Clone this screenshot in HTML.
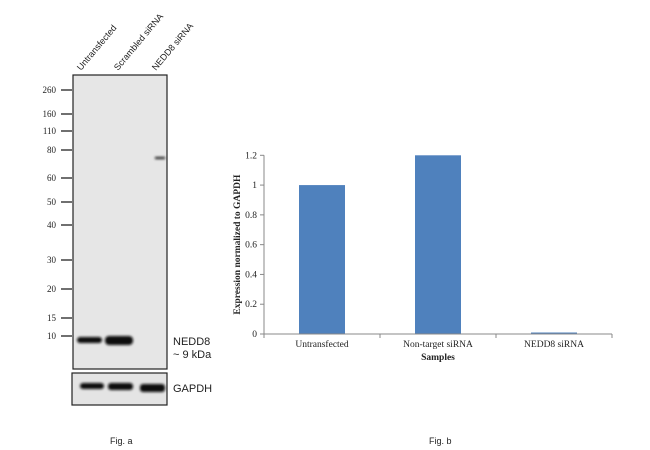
<!DOCTYPE html>
<html><head><meta charset="utf-8"><style>
body{margin:0;background:#fff;width:650px;height:450px;overflow:hidden;position:relative;font-family:"Liberation Sans",sans-serif}
</style></head><body>
<svg width="650" height="450" style="position:absolute;left:0;top:0">
<defs><filter id="blur"><feGaussianBlur stdDeviation="1.2"/></filter></defs>
<g>
<rect x="73" y="75" width="94" height="294" fill="#e6e6e6" stroke="#222" stroke-width="1.2"/>
<rect x="72" y="373" width="95" height="32" fill="#e4e4e4" stroke="#222" stroke-width="1.2"/>
<g font-size="9" fill="#222">
<text transform="translate(81,71) rotate(-50)">Untransfected</text>
<text transform="translate(118,71) rotate(-50)">Scrambled siRNA</text>
<text transform="translate(156,71) rotate(-50)">NEDD8 siRNA</text>
</g>
<g font-family="Liberation Serif" font-size="9" fill="#222" id="mw"></g>
<g filter="url(#blur)">
<rect x="77" y="337" width="25" height="6" rx="3" fill="#111"/>
<rect x="105" y="336" width="28" height="9" rx="4" fill="#111"/>
<rect x="155" y="157" width="10" height="2" fill="#111"/>
<rect x="80" y="383" width="24" height="6" rx="3" fill="#111"/>
<rect x="108" y="383" width="25" height="7" rx="3" fill="#111"/>
<rect x="140" y="384" width="25" height="8" rx="3" fill="#111"/>
</g>
<text x="173" y="345" font-size="11" fill="#222">NEDD8</text>
<text x="173" y="358" font-size="11" fill="#222">~ 9 kDa</text>
<text x="173" y="392" font-size="11" fill="#222">GAPDH</text>
</g>
<text x="110" y="444" font-size="9" fill="#222">Fig. a</text>
<text x="429" y="444" font-size="9" fill="#222">Fig. b</text>
<g id="chart" font-family="Liberation Serif"></g>
</svg>
<script>
const mwLabels=["260","160","110","80","60","50","40","30","20","15","10"];
const mwY=[90,114,131,150,178,202,225,260,289,318,336];
const mw=document.getElementById('mw');
const NS='http://www.w3.org/2000/svg';
mwLabels.forEach((l,i)=>{
 const t=document.createElementNS(NS,'text');t.setAttribute('x',56);t.setAttribute('y',mwY[i]+3);t.setAttribute('text-anchor','end');t.textContent=l;
 
 
 mw.appendChild(t);
 const ln=document.createElementNS(NS,'line');ln.setAttribute('x1',61);ln.setAttribute('x2',72);ln.setAttribute('y1',mwY[i]);ln.setAttribute('y2',mwY[i]);ln.setAttribute('stroke','#222');ln.setAttribute('stroke-width','1.3');
 
 
 mw.appendChild(ln);
});

const categories=["Untransfected","Non-target siRNA","NEDD8 siRNA"];
const values=[1.0,1.2,0.01];
const yTicks=[0,0.2,0.4,0.6,0.8,1,1.2];
const g=document.getElementById('chart');
const x0=264,x1=612,y0=334,yTop=155.3,yMax=1.2;
const band=(x1-x0)/categories.length;
const ys=v=>y0-(v/yMax)*(y0-yTop);
const xs=i=>x0+band*(i+0.5);
function el(tag,attrs,txt){const e=document.createElementNS(NS,tag);for(const k in attrs)e.setAttribute(k,attrs[k]);if(txt!==undefined)e.textContent=txt;g.appendChild(e);return e;}
values.forEach((v,i)=>{
 const b=el('rect',{x:xs(i)-23,y:ys(v),width:46,height:y0-ys(v),fill:'#4f81bd'});
 
 
 const t=el('text',{x:xs(i),y:y0+13,'font-size':9.5,'text-anchor':'middle',fill:'#222'},categories[i]);
 
 
});
const ax=el('line',{x1:x0,x2:x0,y1:yTop,y2:y0,stroke:'#888'});


const xa=el('line',{x1:x0,x2:x1,y1:y0,y2:y0,stroke:'#888'});


yTicks.forEach(v=>{
 const tk=el('line',{x1:x0-4,x2:x0,y1:ys(v),y2:ys(v),stroke:'#888'});
 
 
 const t=el('text',{x:x0-7,y:ys(v)+3,'font-size':9.5,'text-anchor':'end',fill:'#222'},String(v));
 
 
});
for(let i=0;i<=categories.length;i++){
 const tk=el('line',{x1:x0+band*i,x2:x0+band*i,y1:y0,y2:y0+4,stroke:'#888'});
 
 
}
const xt=el('text',{x:(x0+x1)/2,y:y0+26,'font-size':9.5,'font-weight':'bold','text-anchor':'middle',fill:'#222'},'Samples');


const yt=el('text',{transform:`translate(240,${(y0+yTop)/2}) rotate(-90)`,'font-size':9.5,'font-weight':'bold','text-anchor':'middle',fill:'#222'},'Expression normalized to GAPDH');


</script>
</body></html>
